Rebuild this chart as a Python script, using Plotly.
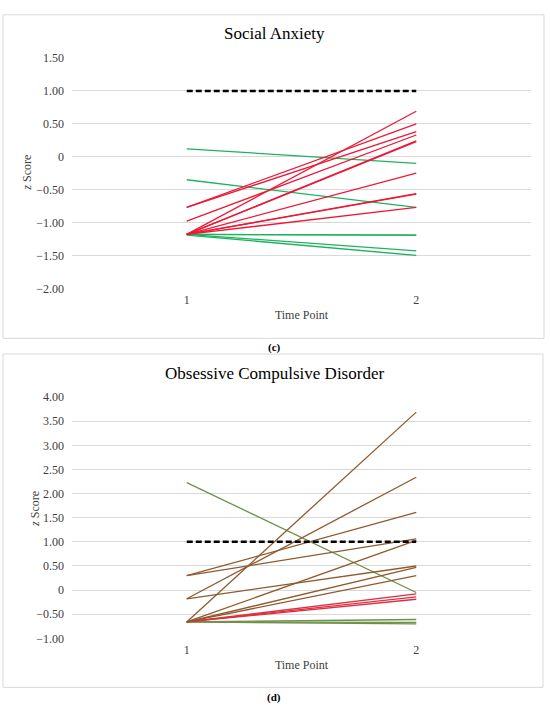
import plotly.graph_objects as go

# time points on the x axis
time_points = [1, 2]
threshold = [1.00, 1.00]

# (c) Social Anxiety - z scores at time 1 and time 2
sa_red_t1 = [-0.77, -0.77, -0.98, -1.18, -1.18, -1.18, -1.18, -1.18, -1.18, -1.18]
sa_red_t2 = [0.50, 0.38, 0.33, 0.69, 0.24, 0.23, -0.25, -0.56, -0.57, -0.77]
sa_green_t1 = [0.12, -0.35, -1.18, -1.18, -1.18, -1.19]
sa_green_t2 = [-0.10, -0.77, -1.19, -1.19, -1.43, -1.50]

# (d) Obsessive Compulsive Disorder
ocd_brown_t1 = [-0.66, -0.18, 0.30, 0.30, -0.66, -0.18, -0.66, -0.66]
ocd_brown_t2 = [3.69, 2.34, 1.61, 1.06, 1.03, 0.50, 0.47, 0.30]
ocd_red_t1 = [-0.66, -0.66, -0.66]
ocd_red_t2 = [-0.08, -0.14, -0.19]
ocd_green_t1 = [2.23, -0.66, -0.66, -0.66]
ocd_green_t2 = [-0.05, -0.61, -0.67, -0.70]

sa_ticks = [1.5, 1.0, 0.5, 0, -0.5, -1.0, -1.5, -2.0]
sa_ticktext = ["1.50", "1.00", "0.50", "0", "\u22120.50", "\u22121.00", "\u22121.50", "\u22122.00"]
ocd_ticks = [4.0, 3.5, 3.0, 2.5, 2.0, 1.5, 1.0, 0.5, 0, -0.5, -1.0]
ocd_ticktext = ["4.00", "3.50", "3.00", "2.50", "2.00", "1.50", "1.00", "0.50", "0",
                "\u22120.50", "\u22121.00"]

FONT = "Liberation Serif"
GRID = "#D9D9D9"
W, H = 550, 712

fig = go.Figure()


def add_lines(t1, t2, color, xa, ya):
    for a, b in zip(t1, t2):
        fig.add_trace(go.Scatter(
            x=time_points, y=[a, b], mode="lines",
            line=dict(color=color, width=1.3),
            xaxis=xa, yaxis=ya, showlegend=False, hoverinfo="skip"
        ))


# top panel
add_lines(sa_green_t1, sa_green_t2, "#1DB35E", "x", "y")
add_lines(sa_red_t1, sa_red_t2, "#EE1836", "x", "y")
fig.add_trace(go.Scatter(x=time_points, y=threshold, mode="lines",
                         line=dict(color="black", width=2.5, dash="6px,3px"),
                         xaxis="x", yaxis="y", showlegend=False))

# bottom panel
add_lines(ocd_green_t1, ocd_green_t2, "#6E9148", "x2", "y2")
add_lines(ocd_red_t1, ocd_red_t2, "#DC3040", "x2", "y2")
add_lines(ocd_brown_t1, ocd_brown_t2, "#8E5A2E", "x2", "y2")
fig.add_trace(go.Scatter(x=time_points, y=threshold, mode="lines",
                         line=dict(color="black", width=2.5, dash="6px,3px"),
                         xaxis="x2", yaxis="y2", showlegend=False))

xdom = [72 / W, 531 / W]
xaxis_common = dict(
    range=[0.5, 2.5], tickvals=[1, 2], ticktext=["1", "2"],
    showgrid=False, zeroline=False, showline=False, ticks="",
    tickfont=dict(family=FONT, size=12, color="#404040"),
    ticklabelstandoff=3,
    title=dict(text="Time Point", font=dict(family=FONT, size=12, color="#404040"), standoff=4),
    domain=xdom,
)
yaxis_common = dict(
    showgrid=True, gridcolor=GRID, gridwidth=1,
    zeroline=True, zerolinecolor=GRID, zerolinewidth=1,
    showline=False, ticks="",
    tickfont=dict(family=FONT, size=12, color="#404040"),
    ticklabelstandoff=7,
)

fig.update_layout(
    width=W, height=H,
    margin=dict(l=0, r=0, t=0, b=0),
    paper_bgcolor="white", plot_bgcolor="white",
    xaxis=dict(xaxis_common, anchor="y"),
    yaxis=dict(yaxis_common, range=[-2.0, 1.5], tickvals=sa_ticks, ticktext=sa_ticktext,
               domain=[1 - 287 / H, 1 - 52 / H], anchor="x"),
    xaxis2=dict(xaxis_common, anchor="y2"),
    yaxis2=dict(yaxis_common, range=[-1.0, 4.0], tickvals=ocd_ticks, ticktext=ocd_ticktext,
                domain=[1 - 644 / H, 1 - 398 / H], anchor="x2"),
    showlegend=False,
)

# panel frames
fig.add_shape(type="rect", xref="paper", yref="paper",
              x0=3 / W, x1=544 / W, y0=1 - 338 / H, y1=1 - 8 / H,
              line=dict(color=GRID, width=1))
fig.add_shape(type="rect", xref="paper", yref="paper",
              x0=3 / W, x1=543 / W, y0=1 - 694 / H, y1=1 - 354 / H,
              line=dict(color=GRID, width=1))


def label(text, px, py, size, color="black", angle=0):
    fig.add_annotation(text=text, x=px / W, y=1 - py / H, xref="paper", yref="paper",
                       xanchor="center", yanchor="middle", textangle=angle,
                       showarrow=False, font=dict(family=FONT, size=size, color=color))


# titles and captions
label("Social Anxiety", 274, 27, 17)
label("Obsessive Compulsive Disorder", 274, 374, 17)
label("<i>z</i> Score", 27, 169, 12, "#404040", -90)
label("<i>z</i> Score", 35, 512, 12, "#404040", -90)
label("<b>(c)</b>", 274, 347, 11)
label("<b>(d)</b>", 274, 704, 11)

fig.write_html("out.html", config={"displayModeBar": False},
               post_script="document.body.style.margin='0px';")
